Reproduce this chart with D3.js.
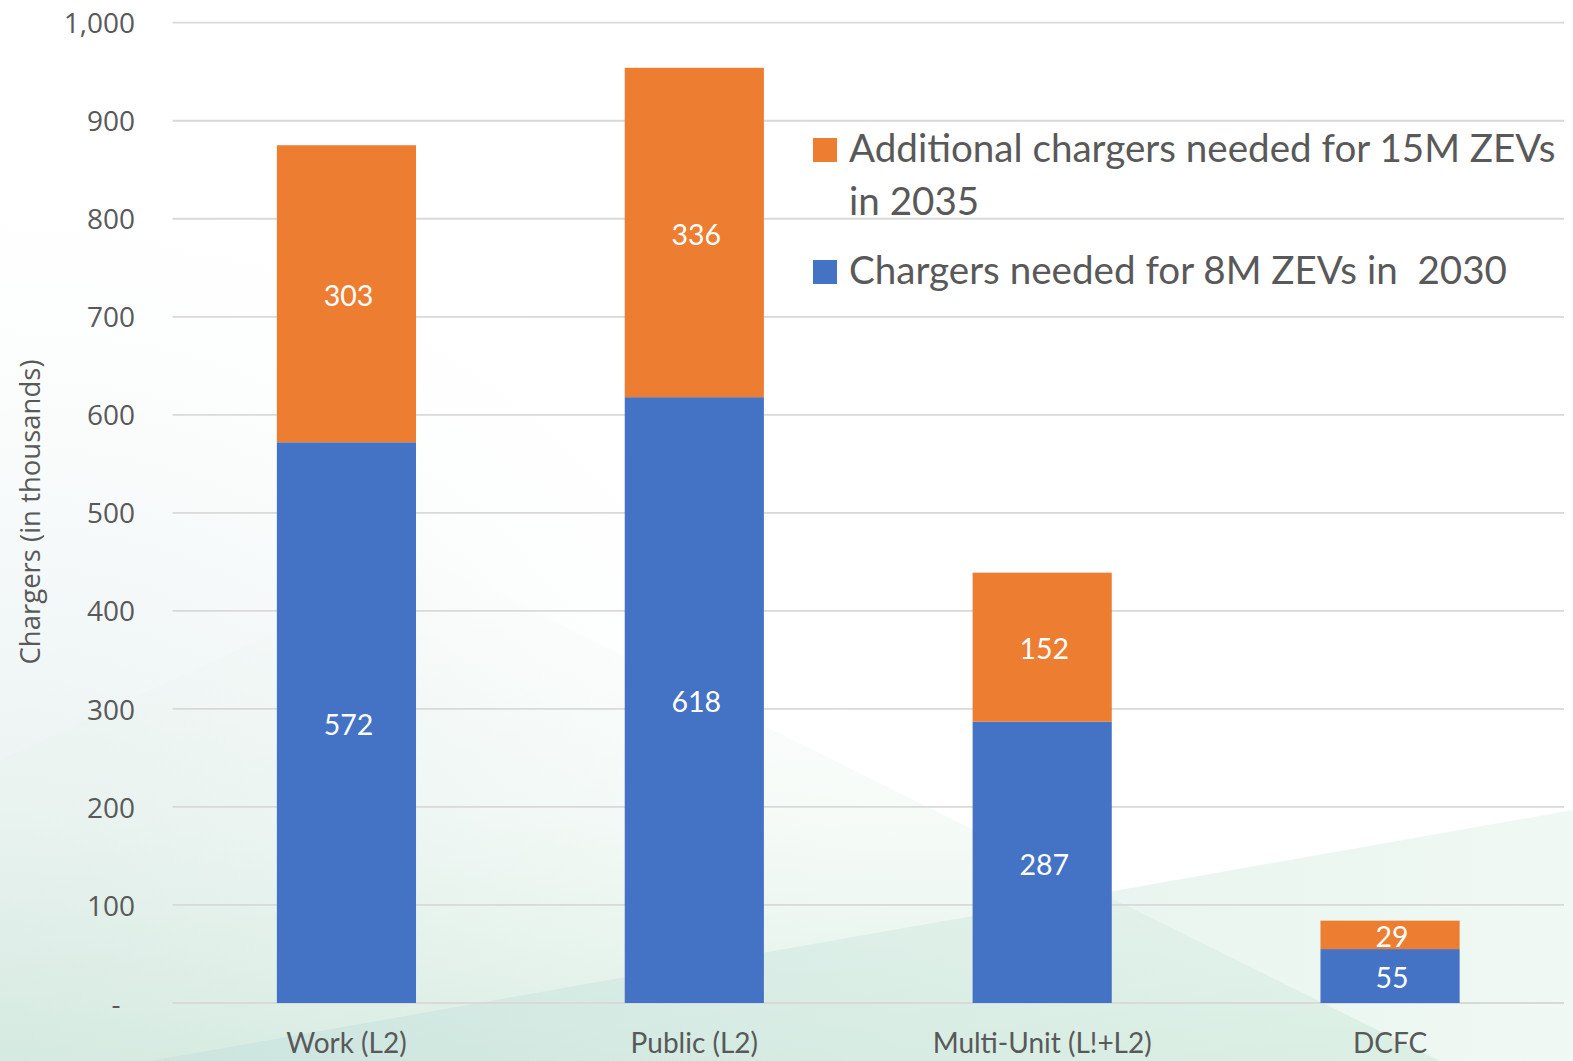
<!DOCTYPE html>
<html><head><meta charset="utf-8">
<script src="https://cdn.jsdelivr.net/npm/d3@7"></script>
<style>
html,body{margin:0;padding:0;background:#fff;}
svg{display:block;}
</style></head>
<body>
<svg id="chart" width="1573" height="1061"></svg>
<script>
// ---- data ----
const categories = ["Work (L2)", "Public (L2)", "Multi-Unit (L!+L2)", "DCFC"];
const chargers2030 = [572, 618, 287, 55];
const additional2035 = [303, 336, 152, 29];
const seriesNames = ["Chargers needed for 8M ZEVs in  2030", "Additional chargers needed for 15M ZEVs in 2035"];
const legendLines2035 = ["Additional chargers needed for 15M ZEVs", "in 2035"];
const yTicks = [0, 100, 200, 300, 400, 500, 600, 700, 800, 900, 1000];
const yTitle = "Chargers (in thousands)";

// ---- layout ----
const W = 1573, H = 1061;
const plot = {left: 172.5, right: 1564, top: 22.7, bottom: 1003};
const BLUE = "#4472C4", ORANGE = "#ED7D31", GRAY = "#595959", GRID = "#d9d9d9";
const calib = "Lato, 'Open Sans', sans-serif";
const segoe = "'Open Sans', sans-serif";

const svg = d3.select("#chart");
const defs = svg.append("defs");

// background
svg.append("rect").attr("width", W).attr("height", H).attr("fill", "#fff");
const rg = defs.append("radialGradient").attr("id", "bgL").attr("gradientUnits", "userSpaceOnUse")
  .attr("cx", 0).attr("cy", H).attr("r", 950);
rg.append("stop").attr("offset", 0).attr("stop-color", "#dde9ea").attr("stop-opacity", 0.9);
rg.append("stop").attr("offset", 0.5).attr("stop-color", "#eaf2f2").attr("stop-opacity", 0.55);
rg.append("stop").attr("offset", 1).attr("stop-color", "#ffffff").attr("stop-opacity", 0);
svg.append("rect").attr("width", W).attr("height", H).attr("fill", "url(#bgL)");

const gG = defs.append("linearGradient").attr("id", "bgG").attr("gradientUnits", "userSpaceOnUse")
  .attr("x1", 0).attr("y1", 560).attr("x2", 0).attr("y2", H);
gG.append("stop").attr("offset", 0).attr("stop-color", "#e6f4ec").attr("stop-opacity", 0);
gG.append("stop").attr("offset", 0.5).attr("stop-color", "#e2f2e8").attr("stop-opacity", 0.3);
gG.append("stop").attr("offset", 1).attr("stop-color", "#cfe9da").attr("stop-opacity", 0.7);
svg.append("path").attr("d", `M430,560 L1440,${H} L0,${H} L0,760 Z`).attr("fill", "url(#bgG)");

const gT = defs.append("linearGradient").attr("id", "bgT").attr("gradientUnits", "userSpaceOnUse")
  .attr("x1", 150).attr("y1", 0).attr("x2", W).attr("y2", 0);
gT.append("stop").attr("offset", 0).attr("stop-color", "#c8e2df").attr("stop-opacity", 0.7);
gT.append("stop").attr("offset", 1).attr("stop-color", "#d9efe2").attr("stop-opacity", 0.4);
svg.append("path").attr("d", `M150,${H} L${W},810 L${W},${H} Z`).attr("fill", "url(#bgT)");

// scales
const x = d3.scaleBand().domain(categories).range([plot.left, plot.right]).paddingInner(0).paddingOuter(0);
const y = d3.scaleLinear().domain([0, 1000]).range([plot.bottom, plot.top]);
const barW = x.bandwidth() * 0.4;

// gridlines
svg.append("g").selectAll("line").data(yTicks).join("line")
  .attr("x1", plot.left).attr("x2", plot.right)
  .attr("y1", d => y(d)).attr("y2", d => y(d))
  .attr("stroke", GRID).attr("stroke-width", 1.8);

// y axis labels
const yAxis = d3.axisLeft(y).tickValues(yTicks).tickSize(0).tickPadding(0)
  .tickFormat(d => d === 0 ? "-  " : d3.format(",")(d));
const ya = svg.append("g").attr("transform", `translate(135,0)`).call(yAxis);
ya.select(".domain").remove();
ya.selectAll("text").attr("font-family", segoe).attr("font-size", 28).attr("fill", GRAY)
  .attr("dy", "0.36em").style("white-space", "pre");

// y title
svg.append("text").attr("transform", `translate(40,512) rotate(-90)`)
  .attr("text-anchor", "middle").attr("font-family", segoe).attr("font-size", 27.5)
  .attr("fill", GRAY).text(yTitle);

// stacked bars
const rows = categories.map((c, i) => ({cat: c, base: chargers2030[i], add: additional2035[i]}));
const stack = d3.stack().keys(["base", "add"])(rows);
const colors = {base: BLUE, add: ORANGE};
const layers = svg.append("g").selectAll("g").data(stack).join("g").attr("fill", d => colors[d.key]);
layers.selectAll("rect").data(d => d).join("rect")
  .attr("x", d => x(d.data.cat) + (x.bandwidth() - barW) / 2)
  .attr("width", barW)
  .attr("y", d => y(d[1]))
  .attr("height", d => y(d[0]) - y(d[1]));

// value labels
layers.selectAll("text").data(d => d.map(v => ({v, key: d.key}))).join("text")
  .attr("x", d => x(d.v.data.cat) + x.bandwidth() / 2 + 2)
  .attr("y", d => (y(d.v[0]) + y(d.v[1])) / 2 + 2)
  .attr("dy", "0.36em")
  .attr("text-anchor", "middle").attr("fill", "#fff")
  .attr("font-family", calib).attr("font-size", 28.5)
  .text(d => d.v.data[d.key]);

// x axis labels
const xAxis = d3.axisBottom(x).tickSize(0).tickPadding(0);
const xa = svg.append("g").attr("transform", `translate(0,1053)`).call(xAxis);
xa.select(".domain").remove();
xa.selectAll("text").attr("font-family", calib).attr("font-size", 28).attr("fill", GRAY).attr("dy", 0);

// legend
const leg = svg.append("g");
const legItems = [
  {color: ORANGE, lines: legendLines2035, y: 162},
  {color: BLUE, lines: [seriesNames[0]], y: 284}
];
legItems.forEach(it => {
  leg.append("rect").attr("x", 813).attr("y", it.y - 24).attr("width", 24).attr("height", 24).attr("fill", it.color);
  it.lines.forEach((l, j) => {
    leg.append("text").attr("x", 849).attr("y", it.y + j * 53)
      .attr("font-family", calib).attr("font-size", 38.6).attr("fill", GRAY)
      .style("white-space", "pre").text(l);
  });
});
</script>
</body></html>
